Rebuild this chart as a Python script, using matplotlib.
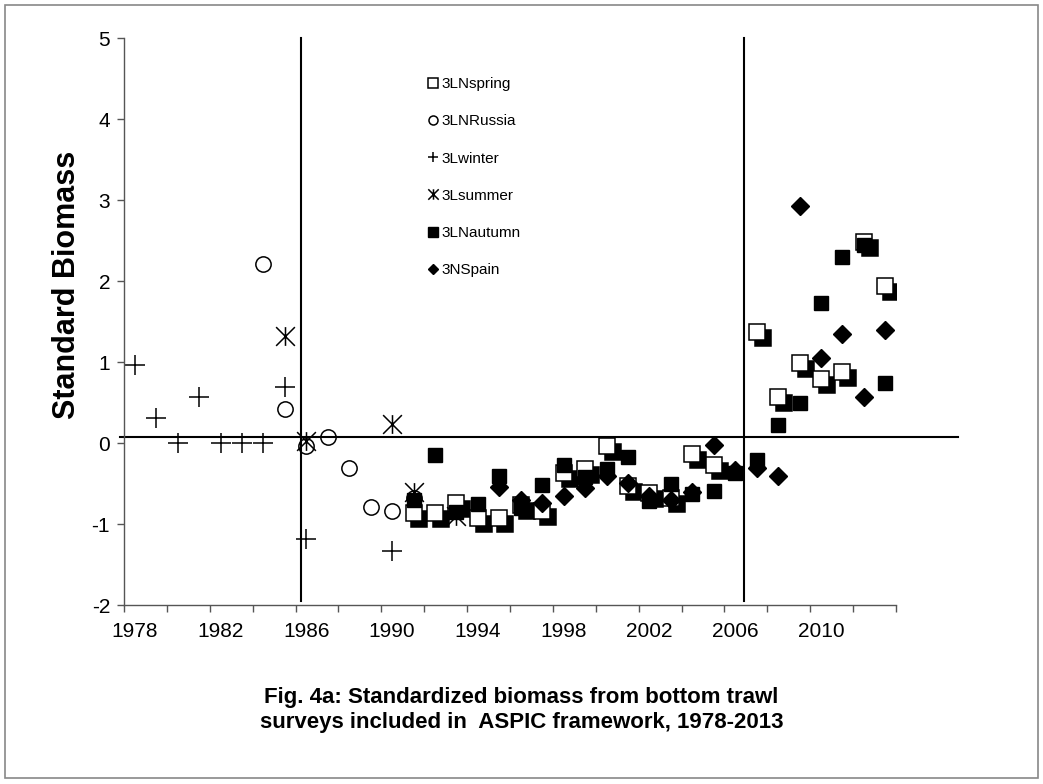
import numpy as np
import matplotlib.pyplot as plt
from matplotlib.path import Path
from matplotlib.lines import Line2D
from matplotlib.patches import Rectangle
from matplotlib.transforms import offset_copy

plt.rcParams["font.family"] = ["Liberation Sans", "DejaVu Sans"]

# ============================================================
# 数据
# ============================================================
spring_years = [1991, 1992, 1993, 1994, 1995, 1996, 1997, 1998, 1999, 2000, 2001,
                2002, 2003, 2004, 2005, 2007, 2008, 2009, 2010, 2011, 2012, 2013]
spring_vals = [-0.87, -0.87, -0.74, -0.93, -0.92, -0.76, -0.84, -0.37, -0.32, -0.04, -0.53,
               -0.62, -0.68, -0.13, -0.27, 1.37, 0.57, 0.99, 0.79, 0.88, 2.48, 1.94]

russia_years = [1984, 1985, 1986, 1987, 1988, 1989, 1990, 1991]
russia_vals = [2.21, 0.42, -0.04, 0.07, -0.31, -0.79, -0.84, -0.68]

winter_years = [1978, 1979, 1980, 1981, 1982, 1983, 1984, 1985, 1986, 1990]
winter_vals = [0.96, 0.31, 0.0, 0.57, 0.0, 0.0, 0.0, 0.69, -1.18, -1.33]

summer_years = [1985, 1986, 1990, 1991, 1993]
summer_vals = [1.32, 0.02, 0.23, -0.60, -0.90]

autumn_years = list(range(1991, 2014))
autumn_vals = [-0.70, -0.15, -0.85, -0.75, -0.41, -0.80, -0.52, -0.27, -0.42, -0.32, -0.17, -0.72,
               -0.50, -0.63, -0.59, -0.37, -0.21, 0.22, 0.49, 1.73, 2.30, 2.44, 0.74]

spain_years = list(range(1995, 2014))
spain_vals = [-0.54, -0.70, -0.74, -0.65, -0.56, -0.41, -0.49, -0.66, -0.70, -0.60, -0.02,
              -0.33, -0.31, -0.41, 2.93, 1.05, 1.35, 0.57, 1.40]

labels = ["3LNspring", "3LNRussia", "3Lwinter", "3Lsummer", "3LNautumn", "3NSpain"]
year_labels = [1978, 1982, 1986, 1990, 1994, 1998, 2002, 2006, 2010]

# 参考线
H_LINE = 0.07
V_LINES = [1985.76, 2006.42]

# Excel 的 "星形" 标记: 竖线 + X
star = Path([(0, -1), (0, 1), (-1, -1), (1, 1), (-1, 1), (1, -1)],
            [Path.MOVETO, Path.LINETO, Path.MOVETO, Path.LINETO, Path.MOVETO, Path.LINETO])

# ============================================================
# 绘图
# ============================================================
fig = plt.figure(figsize=(10.43, 7.84), dpi=100)
ax = fig.add_axes([0.1189, 0.2283, 0.7402, 0.7232])

# 春季调查: 白色方块 + 右下阴影
shadow = offset_copy(ax.transData, fig=fig, x=4.3, y=-4.3, units="points")
ax.plot(spring_years, spring_vals, ls="none", marker="s", ms=11.2, mfc="black",
        mec="black", mew=1.1, transform=shadow)
ax.plot(spring_years, spring_vals, ls="none", marker="s", ms=11.2, mfc="white",
        mec="black", mew=1.1)
ax.plot(russia_years, russia_vals, ls="none", marker="o", ms=11, mfc="white",
        mec="black", mew=1.1)
ax.plot(winter_years, winter_vals, ls="none", marker="+", ms=14.5, mec="black", mew=1.1)
ax.plot(summer_years, summer_vals, ls="none", marker=star, ms=13.5, mec="black", mew=1.1)
ax.plot(autumn_years, autumn_vals, ls="none", marker="s", ms=10, mfc="black", mec="black")
ax.plot(spain_years, spain_vals, ls="none", marker="D", ms=9.2, mfc="black", mec="black")

# 参考线
ax.plot([1977.3, 2016.4], [H_LINE, H_LINE], color="black", lw=1.5, clip_on=False)
for xv in V_LINES:
    ax.plot([xv, xv], [-1.95, 5], color="black", lw=1.5, clip_on=False)

# 坐标轴
ax.set_xlim(1977.5, 2013.5)
ax.set_ylim(-2, 5)
for s in ["top", "right"]:
    ax.spines[s].set_visible(False)
for s in ["left", "bottom"]:
    ax.spines[s].set_color("#555555")
    ax.spines[s].set_linewidth(1.0)

ax.set_xticks(np.arange(1977.5, 2014, 2))
ax.set_xticklabels([])
ax.set_xticks(year_labels, minor=True)
ax.set_xticklabels([str(y) for y in year_labels], minor=True, fontsize=15)
ax.tick_params(axis="x", which="major", direction="out", length=5, width=1, color="#555555")
ax.tick_params(axis="x", which="minor", length=0, pad=12)
ax.set_yticks(range(-2, 6))
ax.set_yticklabels([str(v) for v in range(-2, 6)])
ax.tick_params(axis="y", direction="out", length=5, width=1, color="#555555",
               labelsize=15, pad=5)

fig.text(67 / 1043, 1 - 285 / 784, "Standard Biomass", rotation=90, ha="center",
         va="center", fontsize=22, fontweight="bold")

# 图例
handles = [
    Line2D([], [], ls="none", marker="s", ms=6.5, mfc="white", mec="black", mew=1.1),
    Line2D([], [], ls="none", marker="o", ms=6.5, mfc="white", mec="black", mew=1.1),
    Line2D([], [], ls="none", marker="+", ms=7.5, mec="black", mew=1.1),
    Line2D([], [], ls="none", marker=star, ms=7.5, mec="black", mew=1.1),
    Line2D([], [], ls="none", marker="s", ms=6.5, mfc="black", mec="black"),
    Line2D([], [], ls="none", marker="D", ms=5.2, mfc="black", mec="black"),
]
ax.legend(handles, labels, loc="upper left", bbox_to_anchor=(0.393, 0.931), frameon=False,
          fontsize=11, handlelength=0.7, handletextpad=0.2, labelspacing=1.52,
          borderpad=0, borderaxespad=0)

# 图题
fig.text(0.5, 0.095, "Fig. 4a: Standardized biomass from bottom trawl\n"
         "surveys included in  ASPIC framework, 1978-2013",
         ha="center", va="center", fontsize=16, fontweight="bold", linespacing=1.25)

# 外框
fig.patches.append(Rectangle((0.005, 0.008), 0.99, 0.986, transform=fig.transFigure,
                             fill=False, edgecolor="#888888", lw=1.2))

fig.savefig("out.png", dpi=100)
